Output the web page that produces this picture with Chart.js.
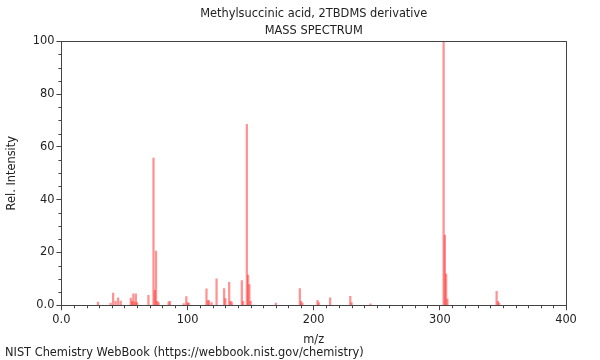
<!DOCTYPE html>
<html>
<head>
<meta charset="utf-8">
<script src="https://cdn.jsdelivr.net/npm/chart.js@4"></script>
<style>
  html, body { margin: 0; padding: 0; background: #fff; }
  #wrap { width: 600px; height: 360px; }
</style>
</head>
<body>
<div id="wrap"><canvas id="spectrum" width="600" height="360"></canvas></div>
<script>
// peaks (m/z and relative intensity)
const mz = [29, 39, 41, 43, 45, 47, 55, 56, 57, 58, 59, 60, 69, 73, 74, 75, 76, 77,
  85, 86, 97, 99, 100, 101, 115, 116, 117, 119, 123, 129, 130, 133, 134, 135,
  143, 144, 147, 148, 149, 150, 170, 189, 190, 191, 203, 204, 213, 229, 230, 245,
  303, 304, 305, 306, 345, 346, 347];
const intensity = [1.2, 0.8, 4.6, 1.5, 2.8, 1.6, 2.7, 1.5, 4.3, 1.2, 4.3, 1.0, 3.8, 55.7, 5.6, 20.5, 1.5, 1.0,
  1.3, 1.5, 0.6, 3.3, 1.0, 0.8, 6.2, 1.8, 1.8, 1.0, 10.0, 6.3, 2.5, 8.7, 1.5, 1.2,
  9.3, 1.5, 68.5, 11.4, 7.8, 1.5, 0.8, 6.3, 1.5, 0.8, 1.9, 1.0, 2.8, 3.4, 1.0, 0.5,
  100, 26.6, 11.8, 2.3, 5.3, 1.5, 0.8];

const xMajor = [0, 100, 200, 300, 400];
const yMajor = [0, 20, 40, 60, 80, 100];

const fontFamily = '"DejaVu Sans", sans-serif';
const fontSize = 11.4;
const textColor = '#222';
const axisColor = '#444';

const points = mz.map((m, i) => ({ x: m, y: intensity[i] }));

// box around the plot plus short minor ticks
const framePlugin = {
  id: 'frame',
  afterDraw(chart) {
    const ctx = chart.ctx;
    const a = chart.chartArea;
    const xs = chart.scales.x;
    const ys = chart.scales.y;
    ctx.save();
    ctx.strokeStyle = axisColor;
    ctx.lineWidth = 1;
    ctx.strokeRect(Math.round(a.left) + 0.5, Math.round(a.top) + 0.5,
      Math.round(a.right - a.left), Math.round(a.bottom - a.top));
    ctx.beginPath();
    for (let v = 0; v <= 400; v += 10) {
      if (v % 100 === 0) continue;
      const px = Math.round(xs.getPixelForValue(v)) + 0.5;
      ctx.moveTo(px, a.bottom);
      ctx.lineTo(px, a.bottom + 3);
    }
    for (let v = 0; v <= 100; v += 5) {
      if (v % 20 === 0) continue;
      const py = Math.round(ys.getPixelForValue(v)) + 0.5;
      ctx.moveTo(a.left, py);
      ctx.lineTo(a.left - 3, py);
    }
    ctx.stroke();
    ctx.restore();
  }
};

new Chart(document.getElementById('spectrum'), {
  type: 'bar',
  data: {
    datasets: [{
      data: points,
      backgroundColor: 'rgba(255, 40, 40, 0.5)',
      borderWidth: 0,
      barThickness: 1.6
    }]
  },
  options: {
    responsive: false,
    animation: false,
    layout: { padding: { left: 5, right: 34, top: 1, bottom: 0 } },
    plugins: {
      legend: { display: false },
      tooltip: { enabled: false },
      title: {
        display: true,
        text: ['Methylsuccinic acid, 2TBDMS derivative', 'MASS SPECTRUM'],
        fullSize: false,
        color: textColor,
        font: { family: fontFamily, size: fontSize, weight: 'normal', lineHeight: 1.5 },
        padding: { top: 4, bottom: 2 }
      },
      subtitle: {
        display: true,
        position: 'bottom',
        align: 'start',
        text: 'NIST Chemistry WebBook (https://webbook.nist.gov/chemistry)',
        color: textColor,
        font: { family: fontFamily, size: fontSize, lineHeight: 1.0 },
        padding: { top: 1, bottom: 1 }
      }
    },
    scales: {
      x: {
        type: 'linear',
        offset: false,
        min: 0,
        max: 400,
        afterBuildTicks: scale => { scale.ticks = xMajor.map(v => ({ value: v })); },
        ticks: {
          color: textColor,
          font: { family: fontFamily, size: fontSize },
          maxRotation: 0,
          padding: 3,
          callback: v => v === 0 ? '0.0' : String(v)
        },
        grid: { drawOnChartArea: false, offset: false, tickLength: 5, color: axisColor },
        border: { color: axisColor },
        title: {
          display: true,
          text: 'm/z',
          color: textColor,
          font: { family: fontFamily, size: fontSize },
          padding: { top: 3, bottom: 0 }
        }
      },
      y: {
        min: 0,
        max: 100,
        afterBuildTicks: scale => { scale.ticks = yMajor.map(v => ({ value: v })); },
        ticks: {
          color: textColor,
          font: { family: fontFamily, size: fontSize },
          padding: 2,
          callback: v => v === 0 ? '0.0' : String(v)
        },
        grid: { drawOnChartArea: false, tickLength: 5, color: axisColor },
        border: { color: axisColor },
        title: {
          display: true,
          text: 'Rel. Intensity',
          color: textColor,
          font: { family: fontFamily, size: fontSize },
          padding: { top: 0, bottom: 12 }
        }
      }
    }
  },
  plugins: [framePlugin]
});
</script>
</body>
</html>
